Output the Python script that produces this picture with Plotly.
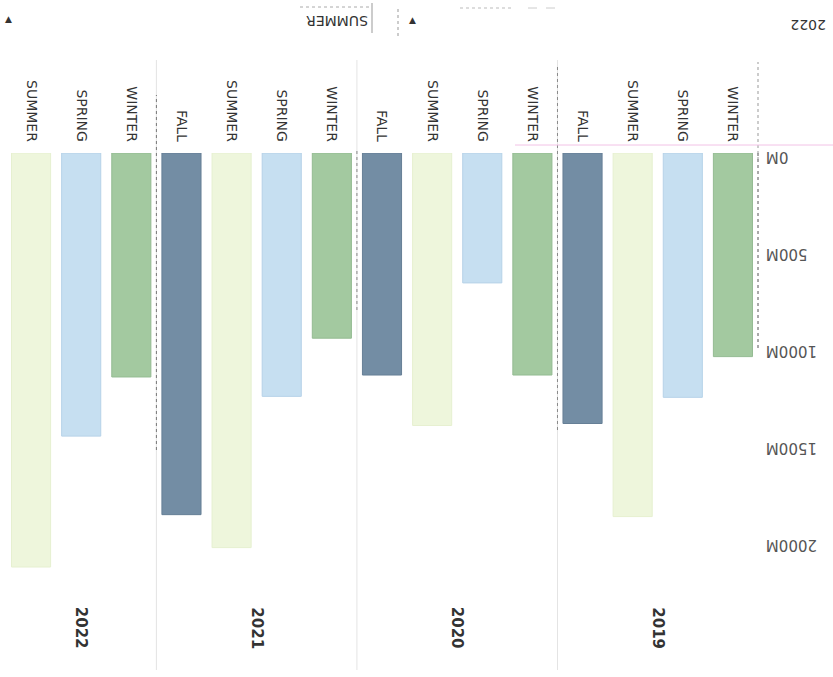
import plotly.graph_objects as go

# Seasonal totals (millions), in chronological order
years = ["2019", "2019", "2019", "2019",
         "2020", "2020", "2020", "2020",
         "2021", "2021", "2021", "2021",
         "2022", "2022", "2022"]
seasons = ["WINTER", "SPRING", "SUMMER", "FALL",
           "WINTER", "SPRING", "SUMMER", "FALL",
           "WINTER", "SPRING", "SUMMER", "FALL",
           "WINTER", "SPRING", "SUMMER"]
values = [1050, 1260, 1875, 1395,
          1145, 670, 1405, 1145,
          955, 1255, 2035, 1865,
          1155, 1460, 2135]

y_tick_values = [0, 500, 1000, 1500, 2000]
y_tick_labels = ["0M", "500M", "1000M", "1500M", "2000M"]
year_labels = ["2019", "2020", "2021", "2022"]

season_colors = {
    "WINTER": "#a3c9a0",
    "SPRING": "#c6dff1",
    "SUMMER": "#eef6dc",
    "FALL": "#738da4",
}
season_edges = {
    "WINTER": "#94bb92",
    "SPRING": "#b6d2e8",
    "SUMMER": "#e6f0d0",
    "FALL": "#667f96",
}

FONT = "DejaVu Sans"
categories = [f"{y} {s}" for y, s in zip(years, seasons)]

fig = go.Figure(
    go.Bar(
        x=categories,
        y=values,
        marker=dict(
            color=[season_colors[s] for s in seasons],
            line=dict(color=[season_edges[s] for s in seasons], width=1),
        ),
        width=0.78,
        showlegend=False,
        hovertemplate="%{x}: %{y}M<extra></extra>",
    )
)

PLOT_TOP, PLOT_BOTTOM, PLOT_LEFT, PLOT_RIGHT = 153, 599, 6, 758
W, H = 833, 677


def py(p):
    return (PLOT_BOTTOM - p) / (PLOT_BOTTOM - PLOT_TOP)


def px(p):
    return (p - PLOT_LEFT) / (PLOT_RIGHT - PLOT_LEFT)


def vline(xref, x, top, bottom, color, dash="solid", width=1):
    return dict(type="line", xref=xref, yref="paper", x0=x, x1=x,
                y0=py(bottom), y1=py(top), line=dict(color=color, width=width, dash=dash))


def hline(left, right, y, color, dash="solid"):
    return dict(type="line", xref="paper", yref="paper", x0=px(left), x1=px(right),
                y0=py(y), y1=py(y), line=dict(color=color, width=1, dash=dash))


shapes = []
# dividers between year groups
boundaries = [i + 0.5 for i in range(len(years) - 1) if years[i] != years[i + 1]]
for b in boundaries:
    shapes.append(vline("x", b, 60, 670, "#e4e4e4"))
# darker dotted runs along the dividers
shapes.append(vline("x", boundaries[2], 95, 450, "#777", "dot"))
shapes.append(vline("x", boundaries[1], 150, 310, "#888", "dot"))
shapes.append(vline("x", boundaries[0], 65, 430, "#888", "dot"))
# value-axis line
shapes.append(dict(type="line", xref="paper", yref="y", x0=1, x1=1, y0=0, y1=1010,
                   line=dict(color="#555", width=1, dash="dot")))
shapes.append(vline("paper", 1, 62, 160, "#999", "dot"))
# faint pink rule near the category labels
shapes.append(hline(515, 833, 145, "#f2c2e6"))
# menu bar borders
shapes.append(dict(type="line", xref="paper", yref="paper", x0=px(372), x1=px(372),
                   y0=py(33), y1=py(3), line=dict(color="#999", width=1)))
shapes.append(dict(type="line", xref="paper", yref="paper", x0=px(398), x1=px(398),
                   y0=py(36), y1=py(9), line=dict(color="#999", width=1, dash="dot")))
shapes.append(hline(300, 370, 7, "#aaa", "dot"))
shapes.append(hline(460, 512, 8, "#bbb", "dot"))
shapes.append(hline(528, 562, 8, "#ccc", "dash"))

annotations = []
# year labels under each group
for yr in year_labels:
    idx = [i for i, y in enumerate(years) if y == yr]
    center = (idx[0] + idx[-1]) / 2
    annotations.append(dict(x=center, y=py(628), xref="x", yref="paper",
                            xanchor="center", yanchor="middle",
                            text=f"<b>{yr}</b>", showarrow=False, textangle=90,
                            font=dict(family=FONT, size=15, color="#333")))

# menu buttons
menu = [
    (8, 19, "▲", 0, 9),
    (337, 21, "SUMMER", 180, 14),
    (412, 20, "▲", 0, 9),
    (808, 25, "2022", 180, 14),
]
for x, y, txt, ang, size in menu:
    annotations.append(dict(x=px(x), y=py(y), xref="paper", yref="paper",
                            xanchor="center", yanchor="middle",
                            text=txt, showarrow=False, textangle=ang,
                            font=dict(family=FONT, size=size, color="#333")))

# pad shorter labels so the flipped labels share a common outer edge
longest = max(len(t) for t in y_tick_labels)
padded_labels = ["\u00a0" * (2 * (longest - len(t))) + t for t in y_tick_labels]

fig.update_layout(
    width=W,
    height=H,
    margin=dict(l=PLOT_LEFT, r=W - PLOT_RIGHT, t=PLOT_TOP, b=H - PLOT_BOTTOM),
    paper_bgcolor="white",
    plot_bgcolor="white",
    shapes=shapes,
    annotations=annotations,
    xaxis=dict(
        type="category",
        categoryorder="array",
        categoryarray=categories,
        autorange="reversed",
        side="top",
        tickmode="array",
        tickvals=categories,
        ticktext=seasons,
        tickangle=90,
        ticklabelstandoff=8,
        tickfont=dict(family=FONT, size=14, color="#333"),
        showgrid=False,
        showline=False,
        ticks="",
        zeroline=False,
    ),
    yaxis=dict(
        range=[2300, 0],
        side="right",
        tickmode="array",
        tickvals=y_tick_values,
        ticktext=padded_labels,
        tickangle=180,
        ticklabelstandoff=58,
        ticklabelshift=-9,
        tickfont=dict(family=FONT, size=15, color="#555"),
        showgrid=False,
        zeroline=False,
        showline=False,
        ticks="",
    ),
)

fig.write_html("out.html")
